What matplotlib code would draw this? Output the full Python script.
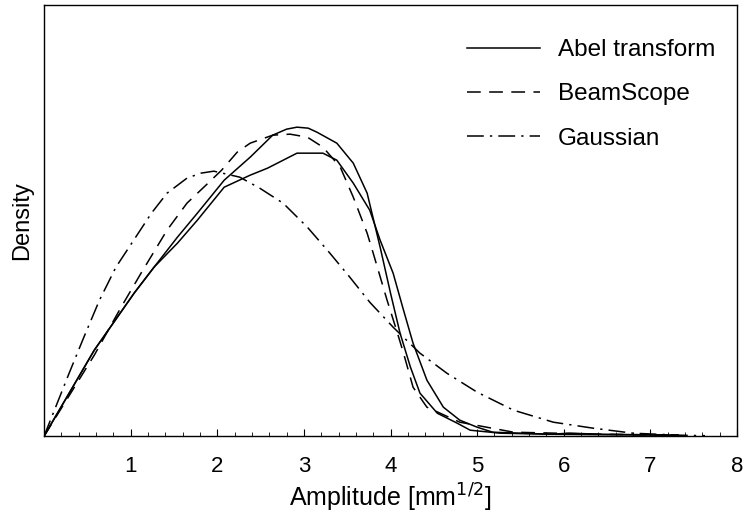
import numpy as np
import matplotlib
matplotlib.use("Agg")
import matplotlib.pyplot as plt
from matplotlib.ticker import MultipleLocator

plt.rcParams["font.family"] = ["Liberation Sans", "DejaVu Sans"]

# Abel transform, first reconstruction (taller peak)
abel_a_x = [0, 0.58, 1.04, 1.27, 1.54, 1.77, 2.08, 2.38, 2.64, 2.80, 2.92, 3.05, 3.15, 3.38, 3.57,
            3.73, 3.88, 4.0, 4.11, 4.23, 4.34, 4.54, 4.77, 4.92, 5.27, 5.84, 6.42, 7.32]
abel_a_y = [0, 86, 143, 169, 199, 223, 256, 279, 301, 307, 309, 308, 304, 293, 273,
            243, 189, 143, 103, 69, 43, 23, 13, 6, 3, 2, 1.5, 1]

# Abel transform, second reconstruction (flatter peak)
abel_b_x = [0, 0.58, 1.04, 1.27, 1.54, 1.77, 2.08, 2.38, 2.58, 2.92, 3.22, 3.38, 3.57, 3.76,
            3.88, 4.03, 4.15, 4.26, 4.42, 4.61, 4.80, 5.0, 5.18, 5.84, 6.07, 6.42, 7.32]
abel_b_y = [0, 86, 143, 169, 193, 216, 249, 261, 268, 283, 283, 276, 253, 226,
            196, 163, 126, 93, 56, 29, 16, 9, 4, 2, 3, 2, 1]

beam_x = [0, 0.58, 0.89, 1.12, 1.42, 1.65, 1.93, 2.05, 2.23, 2.38, 2.64, 2.84, 3.04, 3.22,
          3.42, 3.57, 3.73, 3.80, 3.96, 4.08, 4.15, 4.26, 4.42, 4.80, 5.42, 6.42, 7.32]
beam_y = [0, 81, 129, 163, 206, 233, 256, 266, 284, 293, 301, 302, 299, 289,
          269, 239, 203, 183, 136, 103, 83, 49, 29, 14, 4, 2, 1]

gauss_x = [0, 0.12, 0.29, 0.46, 0.64, 0.83, 1.02, 1.24, 1.42, 1.65, 1.81, 1.96, 2.26, 2.49,
           2.76, 3.04, 3.30, 3.53, 3.76, 4.03, 4.34, 4.65, 5.0, 5.42, 5.88, 6.34, 6.80, 7.34, 7.63]
gauss_y = [0, 26, 63, 99, 136, 169, 194, 223, 243, 258, 263, 265, 259, 248,
           233, 209, 183, 159, 134, 109, 83, 63, 44, 26, 14, 8, 3, 1, 0.5]

fig = plt.figure(figsize=(7.46, 5.15), dpi=100)
ax = fig.add_axes([0.059, 0.153, 0.929, 0.837])

lw = 1.1
ax.plot(abel_a_x, abel_a_y, color="black", lw=lw, label="Abel transform")
ax.plot(abel_b_x, abel_b_y, color="black", lw=lw)
ax.plot(beam_x, beam_y, color="black", lw=lw, dashes=(9, 5.5), label="BeamScope")
ax.plot(gauss_x, gauss_y, color="black", lw=lw, dashes=(11, 4, 1.5, 4), label="Gaussian")

ax.set_xlim(0, 8)
ax.set_ylim(0, 431)
ax.set_xticks(range(1, 9))
ax.xaxis.set_minor_locator(MultipleLocator(0.2))
ax.set_yticks([])
ax.tick_params(axis="x", which="major", direction="in", length=5, width=0.8,
               labelsize=16, pad=14)
ax.tick_params(axis="x", which="minor", direction="in", length=3, width=0.6)
for s in ax.spines.values():
    s.set_linewidth(1.0)

ax.set_xlabel("Amplitude [mm$^{1/2}$]", fontsize=18, labelpad=4)
ax.set_ylabel("Density", fontsize=17, labelpad=8)

ax.legend(loc="upper right", bbox_to_anchor=(1.0, 0.972), frameon=False, fontsize=17.5,
          handlelength=3.0, handletextpad=0.75, labelspacing=0.92, borderaxespad=0.5)

fig.savefig("out.png", dpi=100)
